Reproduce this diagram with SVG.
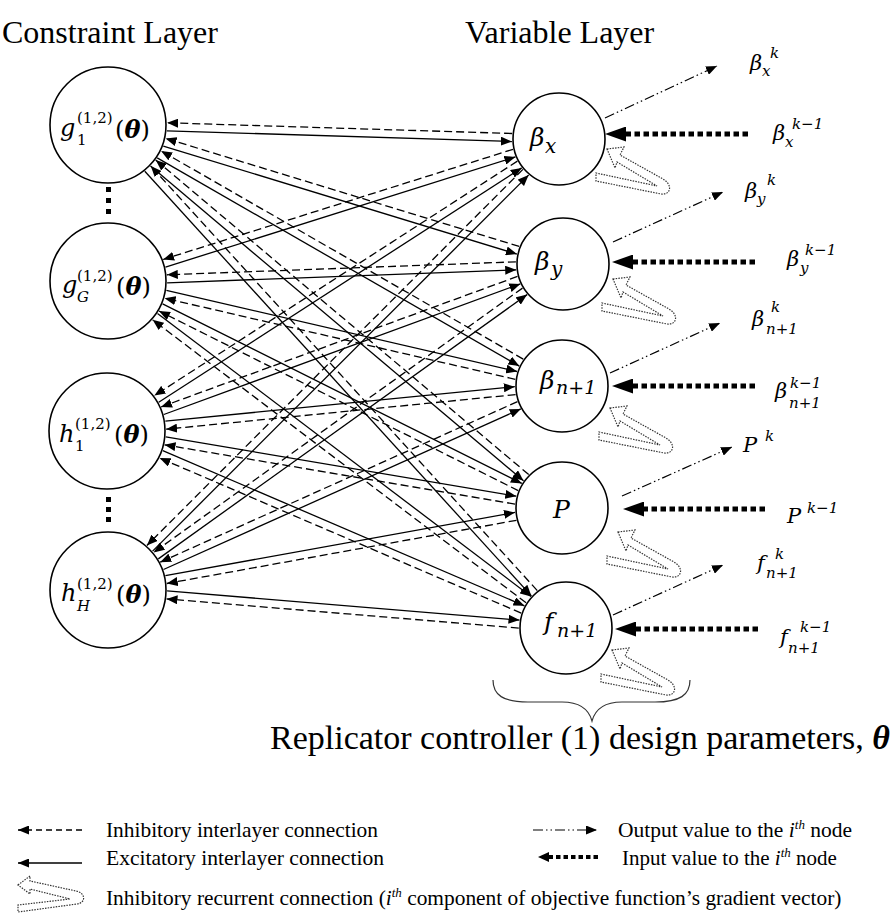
<svg xmlns="http://www.w3.org/2000/svg" width="895" height="923" viewBox="0 0 895 923">
<defs>
<marker id="ah" markerUnits="userSpaceOnUse" markerWidth="11" markerHeight="9" viewBox="0 0 11 9" refX="11" refY="4.5" orient="auto"><path d="M0,0 L11,4.5 L0,9 Z" fill="#000"/></marker>
<marker id="ahb" markerUnits="userSpaceOnUse" markerWidth="21" markerHeight="15" viewBox="0 0 21 15" refX="9" refY="7.5" orient="auto"><path d="M0,0 L21,7.5 L0,15 Z" fill="#000"/></marker>
<marker id="ahs" markerUnits="userSpaceOnUse" markerWidth="11" markerHeight="10" viewBox="0 0 11 10" refX="5" refY="5" orient="auto"><path d="M0,0 L11,5 L0,10 Z" fill="#000"/></marker>
<path id="rec" d="M0,0 L17,-2 L13,6 L56,30 C66,36 64,46 54,45 L-11,32 L-11,24 L50,37 L10,13 L8,19 Z"/>
</defs>
<style>
.ex{stroke:#000;stroke-width:1.3;fill:none;marker-end:url(#ah)}
.in{stroke:#000;stroke-width:1.3;fill:none;stroke-dasharray:8 4;marker-end:url(#ah)}
.out{stroke:#000;stroke-width:1.2;fill:none;stroke-dasharray:10 3 1.5 3 1.5 3;marker-end:url(#ah)}
.inp{stroke:#000;stroke-width:5;fill:none;stroke-dasharray:5.5 3.5;marker-end:url(#ahb)}
.inps{stroke:#000;stroke-width:4;fill:none;stroke-dasharray:4.5 3;marker-end:url(#ahs)}
.node{fill:#fff;stroke:#000;stroke-width:1.6}
.rec{fill:#fff;stroke:#333;stroke-width:1.2;stroke-dasharray:1.5 1.2}
text{font-family:"Liberation Serif","Times New Roman",serif;fill:#000}
.m{font-family:"DejaVu Serif","Liberation Serif",serif;font-style:italic}
.mr{font-family:"DejaVu Serif","Liberation Serif",serif}
.b{font-weight:bold}
.dot{fill:#000}
</style>

<text x="2" y="43" font-size="32">Constraint Layer</text>
<text x="465" y="43" font-size="32">Variable Layer</text>

<g id="connectors">
<path class="ex" d="M166.9,130.8 L511.9,141.5"/>
<path class="ex" d="M163.3,146.1 L516.9,254.1"/>
<path class="ex" d="M157.2,157.9 L519.3,366.1"/>
<path class="ex" d="M150.5,166.1 L523.5,480.8"/>
<path class="ex" d="M144.8,171.3 L531.4,595.9"/>
<path class="ex" d="M165.5,267.1 L515.4,156.9"/>
<path class="ex" d="M167.1,282.8 L516.2,269.8"/>
<path class="ex" d="M166.4,290.4 L517.1,371.5"/>
<path class="ex" d="M162.6,303.8 L521.8,483.4"/>
<path class="ex" d="M157.5,313.4 L531.0,596.4"/>
<path class="ex" d="M158.7,402.3 L521.7,167.9"/>
<path class="ex" d="M163.8,414.5 L520.3,283.9"/>
<path class="ex" d="M165.3,421.2 L514.8,386.7"/>
<path class="ex" d="M165.8,436.9 L516.3,496.2"/>
<path class="ex" d="M162.8,450.6 L524.4,605.8"/>
<path class="ex" d="M152.6,551.1 L528.6,175.1"/>
<path class="ex" d="M158.3,558.9 L527.1,294.6"/>
<path class="ex" d="M163.5,569.5 L520.8,408.9"/>
<path class="ex" d="M165.4,575.6 L515.0,512.4"/>
<path class="ex" d="M167.1,590.9 L519.5,620.1"/>

<path class="in" d="M512.1,133.5 L167.1,122.8"/>
<path class="in" d="M519.2,246.4 L165.6,138.4"/>
<path class="in" d="M523.2,359.1 L161.1,150.9"/>
<path class="in" d="M528.7,474.6 L155.7,160.0"/>
<path class="in" d="M537.3,590.6 L150.7,165.9"/>
<path class="in" d="M513.0,149.3 L163.1,259.5"/>
<path class="in" d="M515.9,261.8 L166.8,274.8"/>
<path class="in" d="M515.3,379.3 L164.6,298.2"/>
<path class="in" d="M518.2,490.6 L159.0,311.0"/>
<path class="in" d="M526.1,602.8 L152.6,319.8"/>
<path class="in" d="M517.4,161.1 L154.4,395.6"/>
<path class="in" d="M517.5,276.4 L161.0,407.0"/>
<path class="in" d="M515.6,394.6 L166.1,429.2"/>
<path class="in" d="M515.0,504.1 L164.5,444.8"/>
<path class="in" d="M521.2,613.1 L159.6,458.0"/>
<path class="in" d="M522.9,169.4 L146.9,545.5"/>
<path class="in" d="M522.5,288.1 L153.6,552.4"/>
<path class="in" d="M517.5,401.6 L160.2,562.2"/>
<path class="in" d="M516.5,520.3 L166.8,583.5"/>
<path class="in" d="M518.8,628.1 L166.5,598.9"/>

<path class="out" d="M605,118 L717,66"/>
<path class="out" d="M613,242 L723,192"/>
<path class="out" d="M610,373 L720,323"/>
<path class="out" d="M622,496 L732,447"/>
<path class="out" d="M613,615 L723,565"/>

<path class="inp" d="M748,134 L617,134"/>
<path class="inp" d="M755,262 L624,262"/>
<path class="inp" d="M755,386 L624,386"/>
<path class="inp" d="M765,509 L635,509"/>
<path class="inp" d="M758,629 L627,629"/>

<use href="#rec" x="607" y="149" class="rec"/>
<use href="#rec" x="613" y="279" class="rec"/>
<use href="#rec" x="610" y="408" class="rec"/>
<use href="#rec" x="618" y="532" class="rec"/>
<use href="#rec" x="612" y="650" class="rec"/>
</g>

<g id="node-g1">
<circle class="node" cx="108" cy="125" r="58"/>
<text class="m" x="60" y="136" font-size="24">g</text>
<text class="mr" x="77" y="145" font-size="15">1</text>
<text class="mr" x="77" y="123" font-size="15">(1,2)</text>
<text class="mr" x="115" y="138" font-size="24">(<tspan class="b m">θ</tspan>)</text>
</g>
<g id="dots-g">
<rect class="dot" x="106" y="187" width="5" height="5"/>
<rect class="dot" x="106" y="198" width="5" height="5"/>
<rect class="dot" x="106" y="209" width="5" height="5"/>
</g>
<g id="node-gG">
<circle class="node" cx="108" cy="281" r="58"/>
<text class="m" x="62" y="293" font-size="24">g</text>
<text class="m" x="77" y="302" font-size="15">G</text>
<text class="mr" x="77" y="281" font-size="15">(1,2)</text>
<text class="mr" x="116" y="295" font-size="24">(<tspan class="b m">θ</tspan>)</text>
</g>
<g id="node-h1">
<circle class="node" cx="107" cy="431" r="58"/>
<text class="m" x="59" y="442" font-size="24">h</text>
<text class="mr" x="75" y="451" font-size="15">1</text>
<text class="mr" x="75" y="429" font-size="15">(1,2)</text>
<text class="mr" x="114" y="443" font-size="24">(<tspan class="b m">θ</tspan>)</text>
</g>
<g id="dots-h">
<rect class="dot" x="106" y="497" width="5" height="5"/>
<rect class="dot" x="106" y="507" width="5" height="5"/>
<rect class="dot" x="106" y="517" width="5" height="5"/>
</g>
<g id="node-hH">
<circle class="node" cx="108" cy="590" r="58"/>
<text class="m" x="61" y="601" font-size="24">h</text>
<text class="m" x="77" y="611" font-size="15">H</text>
<text class="mr" x="77" y="589" font-size="15">(1,2)</text>
<text class="mr" x="116" y="603" font-size="24">(<tspan class="b m">θ</tspan>)</text>
</g>

<g id="node-bx">
<circle class="node" cx="559" cy="139" r="46"/>
<text class="m" x="530" y="146" font-size="25">β</text>
<text class="m" x="545" y="153" font-size="20">x</text>
</g>
<g id="node-by">
<circle class="node" cx="563" cy="264" r="46"/>
<text class="m" x="535" y="270" font-size="25">β</text>
<text class="m" x="551" y="276" font-size="20">y</text>
</g>
<g id="node-bn1">
<circle class="node" cx="562" cy="386" r="46"/>
<text class="m" x="540" y="389" font-size="25">β</text>
<text class="m" x="556" y="394" font-size="19">n+1</text>
</g>
<g id="node-P">
<circle class="node" cx="562" cy="508" r="46"/>
<text class="m" x="553" y="518" font-size="25">P</text>
</g>
<g id="node-f">
<circle class="node" cx="566" cy="628" r="46"/>
<text class="m" x="544" y="630" font-size="25">f</text>
<text class="m" x="557" y="637" font-size="19">n+1</text>
</g>

<g id="labels-right">
<text class="m" x="750" y="70" font-size="21">β</text>
<text class="m" x="762" y="76" font-size="15">x</text>
<text class="m" x="770" y="58" font-size="15">k</text>

<text class="m" x="773" y="140" font-size="21">β</text>
<text class="m" x="785" y="147" font-size="15">x</text>
<text class="m" x="792" y="129" font-size="15">k−1</text>

<text class="m" x="745" y="198" font-size="21">β</text>
<text class="m" x="757" y="204" font-size="15">y</text>
<text class="m" x="767" y="185" font-size="15">k</text>

<text class="m" x="787" y="266" font-size="21">β</text>
<text class="m" x="800" y="273" font-size="15">y</text>
<text class="m" x="805" y="255" font-size="15">k−1</text>

<text class="m" x="752" y="326" font-size="21">β</text>
<text class="m" x="766" y="334" font-size="15">n+1</text>
<text class="m" x="771" y="312" font-size="15">k</text>

<text class="m" x="775" y="398" font-size="21">β</text>
<text class="m" x="789" y="408" font-size="15">n+1</text>
<text class="m" x="790" y="388" font-size="15">k−1</text>

<text class="m" x="743" y="452" font-size="21">P</text>
<text class="m" x="765" y="441" font-size="15">k</text>

<text class="m" x="787" y="523" font-size="21">P</text>
<text class="m" x="807" y="513" font-size="15">k−1</text>

<text class="m" x="757" y="570" font-size="21">f</text>
<text class="m" x="766" y="578" font-size="15">n+1</text>
<text class="m" x="775" y="559" font-size="15">k</text>

<text class="m" x="780" y="644" font-size="21">f</text>
<text class="m" x="788" y="653" font-size="15">n+1</text>
<text class="m" x="800" y="632" font-size="15">k−1</text>
</g>

<g id="brace">
<path d="M493,680 C493,695 503,702 528,702 L562,702 C580,702 589,710 592,721 C595,710 604,702 622,702 L655,702 C680,702 690,695 690,680" fill="none" stroke="#333" stroke-width="1.2"/>
<text x="270" y="749" font-size="34">Replicator controller (1) design parameters, <tspan class="b" font-style="italic">θ</tspan></text>
</g>

<g id="legend">
<path class="in" d="M82,830 L18,830" style="stroke-dasharray:6 4"/>
<path class="ex" d="M82,863 L18,863"/>
<path class="rec" d="M18,885 L30,876 L30,881 L76,891 C86,893 86,903 77,904 L18,912 L18,905 L70,899 L30,889 L30,894 Z"/>
<text x="106" y="837" font-size="21" textLength="272" lengthAdjust="spacingAndGlyphs">Inhibitory interlayer connection</text>
<text x="106" y="865" font-size="21" textLength="278" lengthAdjust="spacingAndGlyphs">Excitatory interlayer connection</text>
<text x="106" y="905" font-size="21.4">Inhibitory recurrent connection (<tspan font-style="italic">i</tspan><tspan font-style="italic" font-size="13" dy="-8">th</tspan><tspan dy="8"> component of objective function’s gradient vector)</tspan></text>
<path class="out" d="M533,830 L597,830"/>
<path class="inps" d="M598,857 L544,857"/>
<text x="618" y="837" font-size="21.5">Output value to the <tspan font-style="italic">i</tspan><tspan font-style="italic" font-size="13" dy="-8">th</tspan><tspan dy="8"> node</tspan></text>
<text x="622" y="865" font-size="21">Input value to the <tspan font-style="italic">i</tspan><tspan font-style="italic" font-size="13" dy="-8">th</tspan><tspan dy="8"> node</tspan></text>
</g>
</svg>
